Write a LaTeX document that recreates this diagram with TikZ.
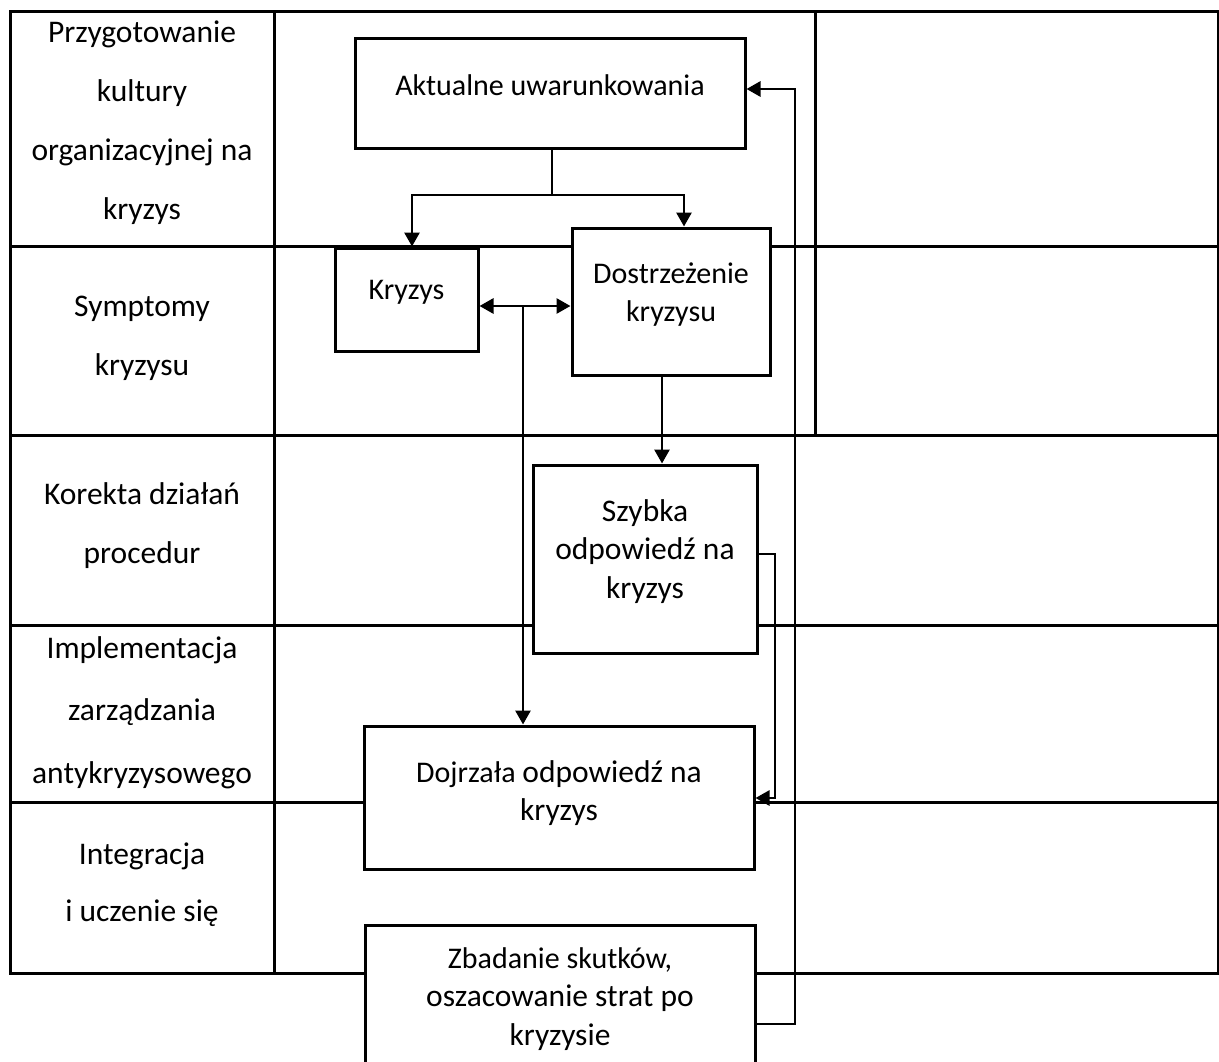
\documentclass[tikz,border=0pt]{standalone}
\usepackage{fontspec}
\setmainfont{Carlito}
\usetikzlibrary{arrows.meta}
\newcommand{\boxtext}[2]{\raisebox{#1}[\height][\depth]{\begin{tabular}{@{}c@{}}#2\end{tabular}}}
\newcommand{\bigsz}{\fontsize{31.5}{38.5}\selectfont}
\begin{document}
\begin{tikzpicture}[x=1pt,y=-1pt,
  gridline/.style={line width=3pt},
  box/.style={draw, line width=3pt, fill=white, inner sep=0pt, font=\fontsize{30}{38.5}\selectfont},
  lane/.style={align=center, font=\fontsize{31.5}{59}\selectfont, inner sep=0pt},
  conn/.style={line width=2.8pt},
  arr/.style={conn, -{Triangle[length=14pt,width=15pt]}},
  arrboth/.style={conn, {Triangle[length=14pt,width=15pt]}-{Triangle[length=14pt,width=15pt]}}
]
\useasboundingbox (0,0) rectangle (1219,1061);
% table
\draw[gridline] (10,11) rectangle (1218,973);
\draw[gridline] (274,11) -- (274,973);
\draw[gridline] (815,11) -- (815,435);
\foreach \yy in {246,435,625,802} \draw[gridline] (10,\yy) -- (1218,\yy);
% lane labels
\node[lane] (l1) at (142,123) {Przygotowanie\\kultury\\organizacyjnej na\\kryzys};
\node[lane] (l2) at (142,338) {Symptomy\\kryzysu};
\node[lane] (l3) at (142,526) {Korekta działań\\procedur};
\node[lane, font=\fontsize{31.5}{62.5}\selectfont] (l4) at (142,712.5) {Implementacja\\zarządzania\\antykryzysowego};
\node[lane, font=\fontsize{31.5}{57}\selectfont] (l5) at (142,884.5) {Integracja\\i uczenie się};
% boxes
\node[box, minimum width=390pt, minimum height=110pt] (akt) at (550,93) {\boxtext{5pt}{Aktualne uwarunkowania}};
\node[box, minimum width=143pt, minimum height=103pt] (kry) at (406.5,299.5) {\boxtext{7.5pt}{Kryzys}};
\node[box, minimum width=198pt, minimum height=147pt] (dos) at (671,301.5) {\boxtext{6.5pt}{Dostrzeżenie\\kryzysu}};
\node[box, minimum width=224pt, minimum height=188pt] (szy) at (645,559) {\boxtext{7pt}{\bigsz Szybka\\\bigsz odpowiedź na\\\bigsz kryzys}};
\node[box, minimum width=390pt, minimum height=143pt] (doj) at (559,797.5) {\boxtext{3.5pt}{Dojrzała {\bigsz odpowiedź na}\\\bigsz kryzys}};
\node[box, minimum width=390pt, minimum height=150pt] (zba) at (560,1000) {\boxtext{1pt}{Zbadanie skutków,\\\bigsz oszacowanie strat po\\\bigsz kryzysie}};
% helper coordinates
\coordinate (j1) at (552,195);
\coordinate (kx) at (412,195);
\coordinate (dx) at (684,195);
\coordinate (j2) at (523,306);
\coordinate (j3) at (662,400);
\coordinate (j4) at (775,554);
\coordinate (j5) at (775,798);
\coordinate (j6) at (795,1024);
\coordinate (j7) at (795,89);
% connectors
\draw[conn] (akt.south -| j1) -- (j1);
\draw[arr] (j1) -- (kx) -- (kry.north -| kx);
\draw[arr] (j1) -- (dx) -- (dos.north -| dx);
\draw[arrboth] (kry.east |- j2) -- (dos.west |- j2);
\draw[arr] (j2) -- (doj.north -| j2);
\draw[arr] (dos.south -| j3) -- (szy.north -| j3);
\draw[arr] (szy.east |- j4) -- (j4) -- (j5) -- (doj.east |- j5);
\draw[arr] (zba.east |- j6) -- (j6) -- (j7) -- (akt.east |- j7);
\end{tikzpicture}
\end{document}
